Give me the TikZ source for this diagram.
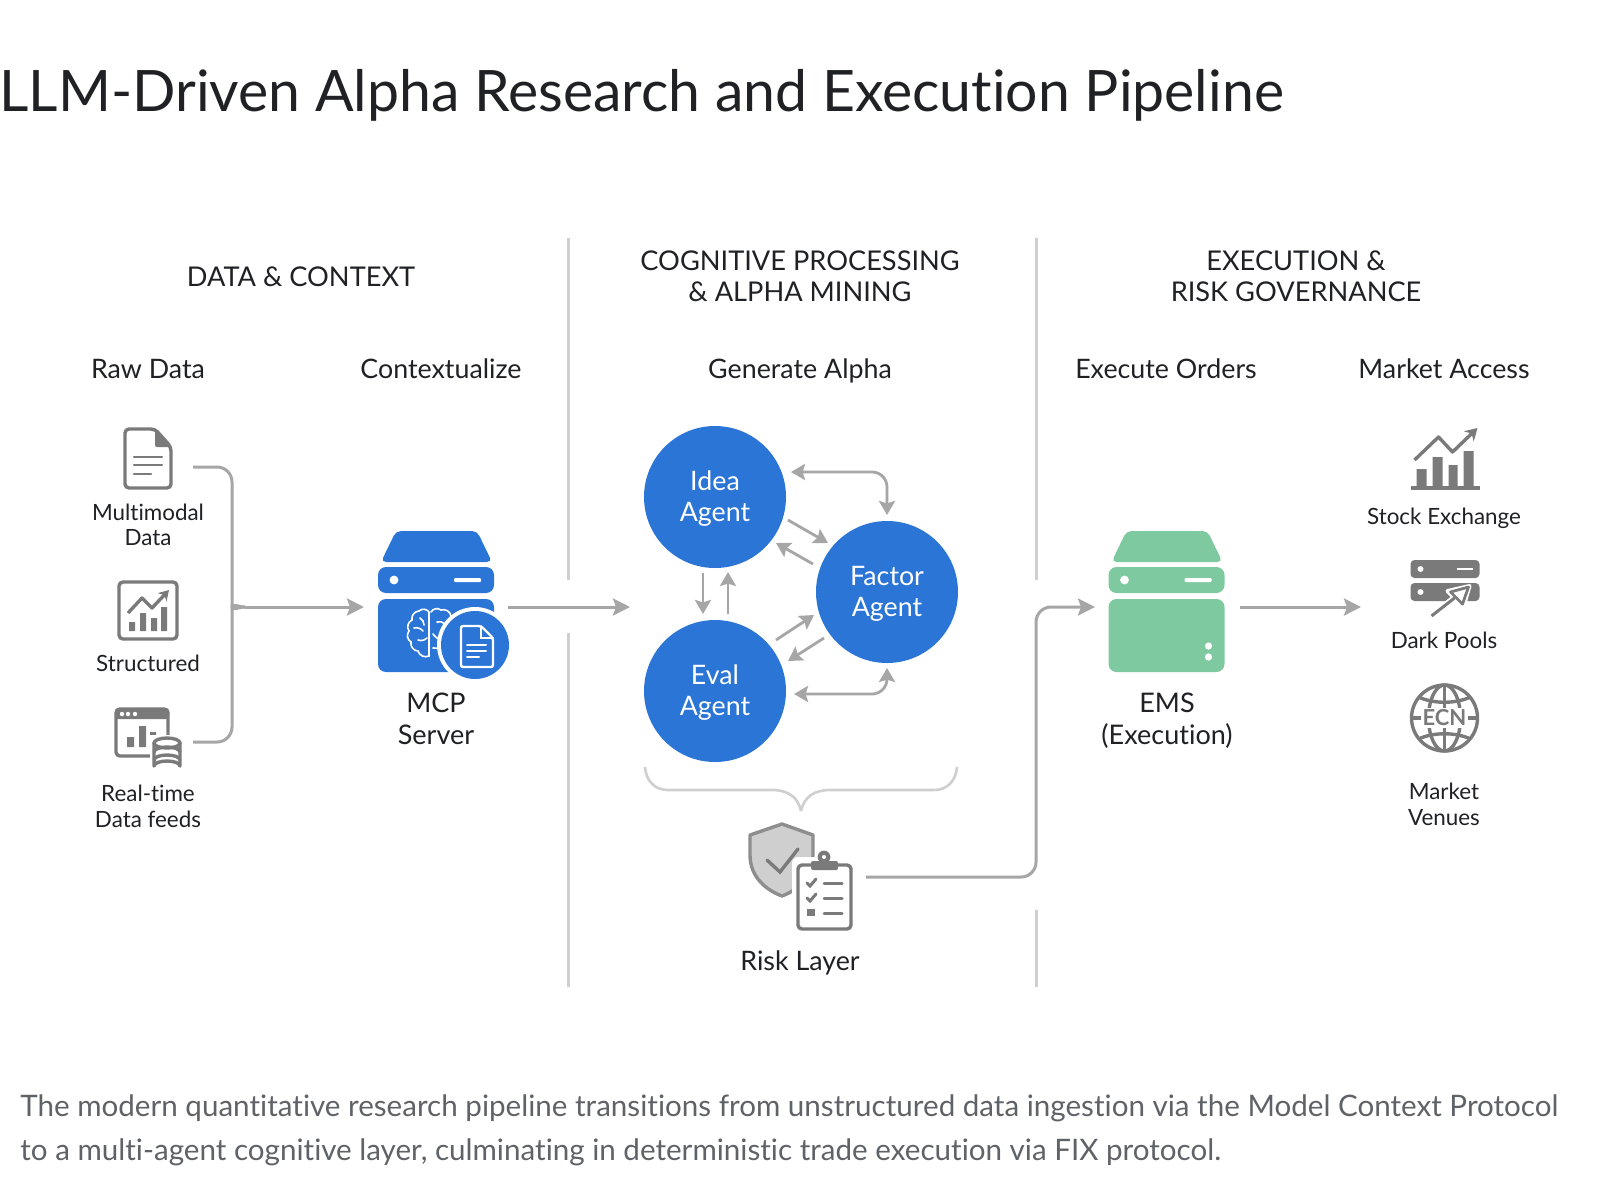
\documentclass[tikz,border=0pt]{standalone}
\usepackage{fontspec}
\setmainfont[Ligatures=NoCommon]{Lato}
\usetikzlibrary{arrows.meta}
\definecolor{ink}{HTML}{202124}
\definecolor{capt}{HTML}{5F6368}
\definecolor{bluefill}{HTML}{2A75D6}
\definecolor{greenfill}{HTML}{7FC9A0}
\definecolor{wire}{HTML}{A6A6A6}
\definecolor{rulecol}{HTML}{CFCFCF}
\definecolor{icon}{HTML}{7A7A7A}
\newcommand{\agentstrut}{\rule{0pt}{11.8pt}}
\tikzset{
  headlabel/.style={text=ink,align=center,font=\fontsize{13.6}{15.5}\selectfont,inner sep=0pt},
  sublabel/.style={text=ink,anchor=base,font=\fontsize{13.4}{14}\selectfont,inner sep=0pt},
  smalllabel/.style={text=ink,align=center,font=\fontsize{11.2}{12.7}\selectfont,inner sep=0pt},
  smallone/.style={text=ink,anchor=base,font=\fontsize{11.2}{12.7}\selectfont,inner sep=0pt},
  serverlabel/.style={text=ink,align=center,font=\fontsize{13.5}{16}\selectfont,inner sep=0pt},
  agent/.style={circle,fill=bluefill,text=white,align=center,minimum size=71pt,inner sep=0pt,font=\fontsize{13.4}{15.5}\selectfont},
  wireline/.style={draw=wire,line width=1.5pt,rounded corners=7.5pt},
  bigarrow/.style={wireline,-{Stealth[length=8.5pt,width=8.5pt,inset=1.5pt]}},
  smallarrow/.style={wireline,line width=1.4pt,-{Stealth[length=7pt,width=8pt,inset=1.2pt]}},
  twoarrow/.style={wireline,line width=1.4pt,{Stealth[length=7pt,width=8pt,inset=1.2pt]}-{Stealth[length=7pt,width=8pt,inset=1.2pt]}},
  divider/.style={draw=rulecol,line width=1.5pt},
  iconline/.style={draw=icon,line width=1.7pt,line join=round},
  iconthin/.style={draw=icon,line width=1.3pt,line cap=round},
  hitbox/.style={inner sep=0pt,outer sep=0pt,minimum height=70pt},
}
\newcommand{\serverbody}[1]{%
  \fill[#1,rounded corners=2.5pt] (-55,562) -- (-40,531) -- (41,531) -- (56,562) -- cycle;
  \fill[#1,rounded corners=4pt] (-58,567) rectangle (58,593);
  \fill[#1,rounded corners=4pt] (-58,599) rectangle (58,672);
  \fill[white] (-42,580) circle (2.2pt);
  \fill[white,rounded corners=.5pt] (18,578) rectangle (45,582);
}
\begin{document}
\begin{tikzpicture}[x=0.5pt,y=-0.5pt]
\useasboundingbox (0,0) rectangle (1600,1200);
\fill[white] (0,0) rectangle (1600,1200);

% title and caption
\node[anchor=base west,inner sep=0pt,text=ink,font=\fontsize{28.57}{30}\selectfont] (title) at (-1,111) {LLM-Driven Alpha Research and Execution Pipeline};
\node[anchor=base west,inner sep=0pt,text=capt,font=\fontsize{14.79}{22}\selectfont] (cap1) at (20,1116) {The modern quantitative research pipeline transitions from unstructured data ingestion via the Model Context Protocol};
\node[anchor=base west,inner sep=0pt,text=capt,font=\fontsize{14.79}{22}\selectfont] (cap2) at (20,1160) {to a multi-agent cognitive layer, culminating in deterministic trade execution via FIX protocol.};

% dividers
\coordinate (d1a) at (568,238); \coordinate (d1b) at (568,580);
\coordinate (d1c) at (568,633); \coordinate (d1d) at (568,987);
\coordinate (d2a) at (1036,238); \coordinate (d2b) at (1036,580);
\coordinate (d2c) at (1036,910); \coordinate (d2d) at (1036,987);
\draw[divider] (d1a) -- (d1b);
\draw[divider] (d1c) -- (d1d);
\draw[divider] (d2a) -- (d2b);
\draw[divider] (d2c) -- (d2d);

% headings
\node[headlabel] (h1) at (301,277) {DATA \& CONTEXT};
\node[headlabel] (h2) at (800,276) {COGNITIVE PROCESSING\\\& ALPHA MINING};
\node[headlabel] (h3) at (1296,276) {EXECUTION \&\\RISK GOVERNANCE};
\node[sublabel] (s1) at (148,378) {Raw Data};
\node[sublabel] (s2) at (441,378) {Contextualize};
\node[sublabel] (s3) at (800,378) {Generate Alpha};
\node[sublabel] (s4) at (1166,378) {Execute Orders};
\node[sublabel] (s5) at (1444,378) {Market Access};

% document icon
\draw[iconline,rounded corners=2pt] (125,429) -- (155,429) -- (171,447) -- (171,488) -- (125,488) -- cycle;
\fill[icon,rounded corners=1pt] (155,429) -- (172,447) -- (155,447) -- cycle;
\draw[iconthin] (134,457) -- (162,457) (134,465) -- (162,465) (134,474) -- (151,474);
\node[smalllabel] (l1) at (148,525) {Multimodal\\Data};

% structured icon
\draw[iconline,rounded corners=2pt] (119,582) rectangle (177,639);
\draw[iconline,-{Stealth[length=5pt,width=6pt]}] (128,613) -- (142,598) -- (152,608) -- (169,590);
\fill[icon] (129,622) rectangle (135,631) (140,613) rectangle (146,631) (151,618) rectangle (157,631) (161,607) rectangle (167,631);
\node[smallone] (l2) at (148,671) {Structured};

% real-time icon
\draw[iconline,rounded corners=2pt] (116,709) rectangle (168,756);
\fill[icon,rounded corners=1.5pt] (115,708) rectangle (169,719);
\fill[white] (122,714) circle (1.1pt) (128,714) circle (1.1pt) (135,714) circle (1.1pt);
\fill[icon] (127,737) rectangle (134,747) (139,726) rectangle (146,747) (150,732) rectangle (156,747);
\fill[white] (150,735) rectangle (183,775);
\draw[iconline,fill=white] (154,743) -- (154,766) arc[start angle=180,end angle=360,x radius=13,y radius=5] -- (180,743);
\draw[iconline,fill=white] (167,743) ellipse[x radius=13,y radius=5];
\draw[iconline] (154,752) arc[start angle=180,end angle=360,x radius=13,y radius=5];
\draw[iconline] (154,760) arc[start angle=180,end angle=360,x radius=13,y radius=5];
\node[smalllabel] (l3) at (148,806.5) {Real-time\\Data feeds};

% MCP server
\begin{scope}[shift={(436,0)}]
\serverbody{bluefill}
\end{scope}
\begin{scope}[draw=white,line width=.8pt,line cap=round]
\draw (429,612) to[bend right=50] (419,611) to[bend right=50] (412,620) to[bend right=50] (409,631) to[bend right=50] (411,642) to[bend right=50] (418,651) to[bend right=50] (429,656) -- cycle;
\draw (431,612) to[bend left=50] (441,610) to[bend left=50] (451,616) to[bend left=50] (458,626);
\draw (414,628) to[bend left=30] (423,631) (418,640) to[bend right=30] (427,638) (420,618) to[bend left=30] (424,625) (437,622) to[bend left=30] (445,624) (433,634) to[bend right=20] (442,640) (433,648) to[bend left=20] (442,650);
\end{scope}
\fill[white] (475,645) circle (19pt);
\fill[bluefill] (475,645) circle (17pt);
\draw[white,line width=1.2pt,line join=round,rounded corners=1pt] (461,626) -- (481,626) -- (493,638) -- (493,667) -- (461,667) -- cycle;
\draw[white,line width=1pt,line cap=round] (481,626) -- (481,638) -- (493,638);
\draw[white,line width=1pt,line cap=round] (467,645) -- (486,645) (467,651) -- (486,651) (467,657) -- (479,657);
\node[serverlabel] (mcplabel) at (436,718.5) {MCP\\Server};
\node[hitbox,minimum width=72pt] (mcp) at (436,607) {};

% source bracket
\coordinate (srcA) at (193,467);
\coordinate (srcC) at (193,742);
\coordinate (joinr) at (245,607);
\draw[wireline] (srcA) -- (232,467) -- (232,594) .. controls (232,602) and (237,607) .. (joinr);
\draw[wireline] (srcC) -- (232,742) -- (232,620) .. controls (232,612) and (237,607) .. (joinr);
\draw[bigarrow] (joinr) -- (mcp.west);

% MCP to agents
\coordinate (agentsin) at (630,607);
\draw[bigarrow] (mcp.east) -- (agentsin);

% agents
\node[agent] (idea) at (715,497) {\agentstrut Idea\\Agent};
\node[agent] (factor) at (887,592) {\agentstrut Factor\\Agent};
\node[agent] (eval) at (715,691) {\agentstrut Eval\\Agent};
\coordinate (if3) at (791,472); \coordinate (if4) at (887,515);
\draw[twoarrow] (if3) -- (887,472) -- (if4);
\coordinate (if1) at (788,520); \coordinate (if2) at (828,543);
\coordinate (fi1) at (813,564); \coordinate (fi2) at (776,543);
\coordinate (ie1) at (703,573); \coordinate (ie2) at (703,614);
\coordinate (ei1) at (728,614); \coordinate (ei2) at (728,572);
\coordinate (ef1) at (776,640); \coordinate (ef2) at (814,615);
\coordinate (fe1) at (824,638); \coordinate (fe2) at (788,661);
\draw[smallarrow] (if1) -- (if2);
\draw[smallarrow] (fi1) -- (fi2);
\draw[smallarrow] (ie1) -- (ie2);
\draw[smallarrow] (ei1) -- (ei2);
\draw[smallarrow] (ef1) -- (ef2);
\draw[smallarrow] (fe1) -- (fe2);
\coordinate (ef3) at (794,694); \coordinate (ef4) at (887,668);
\draw[twoarrow] (ef3) -- (887,694) -- (ef4);

% brace
\coordinate (brL) at (645,767); \coordinate (brR) at (957,767); \coordinate (brT) at (801,811);
\draw[draw=rulecol,line width=1.3pt] (brL) .. controls (646,780) and (654,790) .. (668,790) -- (772,790) .. controls (788,790) and (798,797) .. (brT);
\draw[draw=rulecol,line width=1.3pt] (brR) .. controls (956,780) and (948,790) .. (934,790) -- (830,790) .. controls (814,790) and (804,797) .. (brT);

% risk icons
\begin{scope}[shift={(0,-3)}]
\draw[draw=icon!85,line width=1.7pt,fill=rulecol,line join=round] (782,827) -- (750,838) -- (750,858) .. controls (750,880) and (766,893) .. (782,899) .. controls (798,893) and (813,880) .. (813,858) -- (813,838) -- cycle;
\draw[draw=icon,line width=1.7pt,line cap=round] (767,863) -- (780,875) -- (798,852);
\fill[white,rounded corners=3pt] (792,860) rectangle (857,938);
\draw[iconline,rounded corners=2pt] (798,868) rectangle (851,932);
\fill[icon,rounded corners=1pt] (811,864) rectangle (838,873);
\fill[icon] (824,860) circle (3.2pt);
\fill[white] (824,860) circle (1pt);
\draw[iconthin,line width=1.5pt] (807,886) -- (810,889) -- (816,882) (807,901) -- (810,904) -- (816,897);
\fill[icon] (807,912) rectangle (815,919);
\draw[iconthin,line width=1.5pt] (824,886) -- (842,886) (824,901) -- (842,901) (824,916) -- (842,916);
\end{scope}
\node[sublabel] (risk) at (800,970) {Risk Layer};
\coordinate (riskout) at (866,877);

% EMS
\begin{scope}[shift={(1166.5,0)}]
\serverbody{greenfill}
\fill[white] (42,646) circle (1.8pt) (42,657) circle (1.8pt);
\end{scope}
\node[serverlabel] (emslabel) at (1167,720.5) {EMS\\(Execution)};
\node[hitbox,minimum width=72.5pt] (ems) at (1167.5,607) {};
\draw[bigarrow] (riskout) -- (1036,877) -- (1036,607) -- (ems.west);
\coordinate (venuesin) at (1361,607);
\draw[bigarrow] (ems.east) -- (venuesin);

% stock exchange icon
\begin{scope}[shift={(-1.5,0)}]
\fill[icon] (1418,469) rectangle (1428,486) (1434,457) rectangle (1444,486) (1450,465) rectangle (1459,486) (1465,451) rectangle (1475,486);
\draw[icon,line width=1.8pt] (1412,488) -- (1481,488);
\draw[iconline,-{Stealth[length=6pt,width=7pt]}] (1416,460) -- (1440,437) -- (1454,452) -- (1479,428);
\end{scope}
\node[smallone] (l4) at (1444,524) {Stock Exchange};

% dark pools icon
\begin{scope}[shift={(-1.5,0)}]
\fill[icon,rounded corners=2pt] (1412,560) rectangle (1481,578) (1412,583) rectangle (1481,601);
\fill[white] (1422,569) circle (1.5pt) (1422,592) circle (1.5pt);
\draw[white,line width=1.1pt] (1458,569) -- (1474,569);
\draw[white,line width=3.2pt] (1433,616) -- (1456,598);
\fill[white,line join=round,draw=white,line width=2pt] (1471,586) -- (1449,591) -- (1465,607) -- cycle;
\draw[iconline,line width=1.5pt] (1433,616) -- (1456,598);
\draw[iconline,line width=1.4pt,fill=white] (1470,587) -- (1452,592) -- (1464,604) -- cycle;
\end{scope}
\node[smallone] (l5) at (1444,648) {Dark Pools};

% globe icon
\begin{scope}[shift={(-1.5,0)}]
\draw[iconline] (1446,718) circle (16.5pt);
\draw[iconline] (1446,718) ellipse[x radius=16,y radius=33];
\draw[iconline] (1446,685) -- (1446,751);
\draw[iconline] (1420,697) .. controls (1435,704) and (1457,704) .. (1472,697);
\draw[iconline] (1420,739) .. controls (1435,732) and (1457,732) .. (1472,739);
\draw[iconline] (1413,718) -- (1479,718);
\node[inner sep=1pt,fill=white,text=icon,font=\bfseries\fontsize{11}{11}\selectfont] (ecn) at (1446,718) {ECN};
\end{scope}
\node[smalllabel] (l6) at (1444,804.5) {Market\\Venues};
\end{tikzpicture}
\end{document}
